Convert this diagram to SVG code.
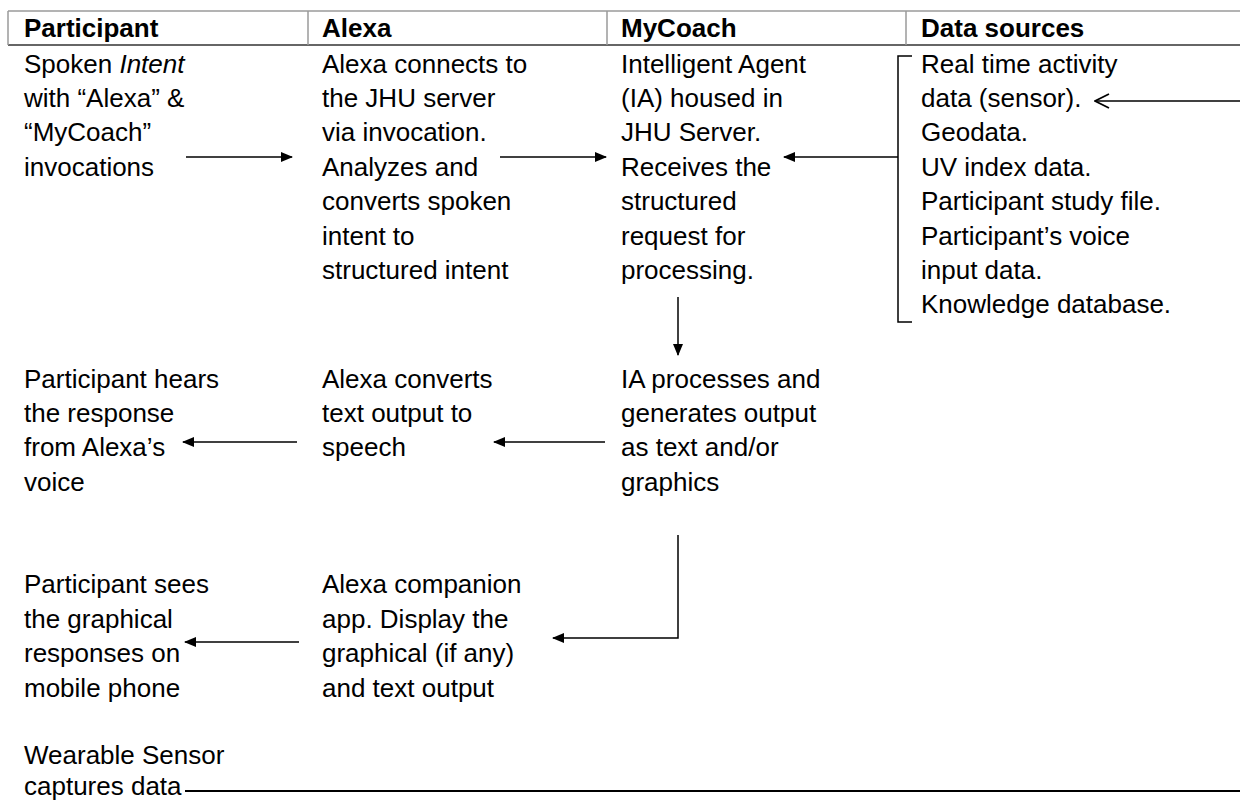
<svg xmlns="http://www.w3.org/2000/svg" width="1240" height="800" viewBox="0 0 1240 800">
<style>
text{font-family:"Liberation Sans",Arial,sans-serif;font-size:26px;fill:#000}
.h{font-weight:bold}
.c{stroke:#000;stroke-width:1.5;fill:none}
.g{stroke:#9a9a9a;stroke-width:1.5;fill:none}
</style>
<defs>
<marker id="f" markerWidth="12" markerHeight="10" refX="11" refY="5" orient="auto" markerUnits="userSpaceOnUse"><path d="M0,0 L12,5 L0,10 Z" fill="#000"/></marker>
<marker id="o" markerWidth="16" markerHeight="16" refX="14" refY="8" orient="auto" markerUnits="userSpaceOnUse"><path d="M1,1 L15,8 L1,15" fill="none" stroke="#000" stroke-width="1.8"/></marker>
</defs>
<rect width="1240" height="800" fill="#fff"/>
<g id="header">
<line class="g" x1="8" y1="11" x2="1240" y2="11"/>
<line x1="8" y1="45" x2="1240" y2="45" stroke="#666" stroke-width="2"/>
<line class="g" x1="8" y1="11" x2="8" y2="45"/>
<line class="g" x1="308" y1="11" x2="308" y2="45"/>
<line class="g" x1="607" y1="11" x2="607" y2="45"/>
<line class="g" x1="906" y1="11" x2="906" y2="45"/>
<text class="h" x="24" y="37">Participant</text>
<text class="h" x="322" y="37">Alexa</text>
<text class="h" x="621" y="37">MyCoach</text>
<text class="h" x="921" y="37">Data sources</text>
</g>
<g id="n-spoken"><text x="24" y="73">Spoken <tspan font-style="italic">Intent</tspan></text><text x="24" y="107">with “Alexa” &amp;</text><text x="24" y="141">“MyCoach”</text><text x="24" y="176">invocations</text></g>
<g id="n-alexa-connects"><text x="322" y="73">Alexa connects to</text><text x="322" y="107">the JHU server</text><text x="322" y="141">via invocation.</text><text x="322" y="176">Analyzes and</text><text x="322" y="210">converts spoken</text><text x="322" y="245">intent to</text><text x="322" y="279">structured intent</text></g>
<g id="n-ia"><text x="621" y="73">Intelligent Agent</text><text x="621" y="107">(IA) housed in</text><text x="621" y="141">JHU Server.</text><text x="621" y="176">Receives the</text><text x="621" y="210">structured</text><text x="621" y="245">request for</text><text x="621" y="279">processing.</text></g>
<g id="n-data"><text x="921" y="73">Real time activity</text><text x="921" y="107">data (sensor).</text><text x="921" y="141">Geodata.</text><text x="921" y="176">UV index data.</text><text x="921" y="210">Participant study file.</text><text x="921" y="245">Participant’s voice</text><text x="921" y="279">input data.</text><text x="921" y="313">Knowledge database.</text></g>
<g id="n-hears"><text x="24" y="388">Participant hears</text><text x="24" y="422">the response</text><text x="24" y="456">from Alexa’s</text><text x="24" y="491">voice</text></g>
<g id="n-converts"><text x="322" y="388">Alexa converts</text><text x="322" y="422">text output to</text><text x="322" y="456">speech</text></g>
<g id="n-processes"><text x="621" y="388">IA processes and</text><text x="621" y="422">generates output</text><text x="621" y="456">as text and/or</text><text x="621" y="491">graphics</text></g>
<g id="n-sees"><text x="24" y="593">Participant sees</text><text x="24" y="628">the graphical</text><text x="24" y="662">responses on</text><text x="24" y="697">mobile phone</text></g>
<g id="n-companion"><text x="322" y="593">Alexa companion</text><text x="322" y="628">app. Display the</text><text x="322" y="662">graphical (if any)</text><text x="322" y="697">and text output</text></g>
<g id="n-sensor"><text x="24" y="764">Wearable Sensor</text><text x="24" y="795">captures data</text></g>
<g id="connectors">
<line class="c" x1="186" y1="157" x2="292" y2="157" marker-end="url(#f)"/>
<line class="c" x1="500" y1="157" x2="606" y2="157" marker-end="url(#f)"/>
<path class="c" d="M912,56 H898 V322 H912"/>
<line class="c" x1="898" y1="157" x2="784" y2="157" marker-end="url(#f)"/>
<line class="c" x1="1240" y1="101" x2="1096" y2="101" marker-end="url(#o)"/>
<line class="c" x1="678" y1="297" x2="678" y2="355" marker-end="url(#f)"/>
<line class="c" x1="605" y1="442" x2="494" y2="442" marker-end="url(#f)"/>
<line class="c" x1="297" y1="442" x2="183" y2="442" marker-end="url(#f)"/>
<path class="c" d="M678,535 V638 H553" marker-end="url(#f)"/>
<line class="c" x1="299" y1="642" x2="185" y2="642" marker-end="url(#f)"/>
<line x1="185" y1="791" x2="1240" y2="791" stroke="#000" stroke-width="2"/>
</g>
</svg>
